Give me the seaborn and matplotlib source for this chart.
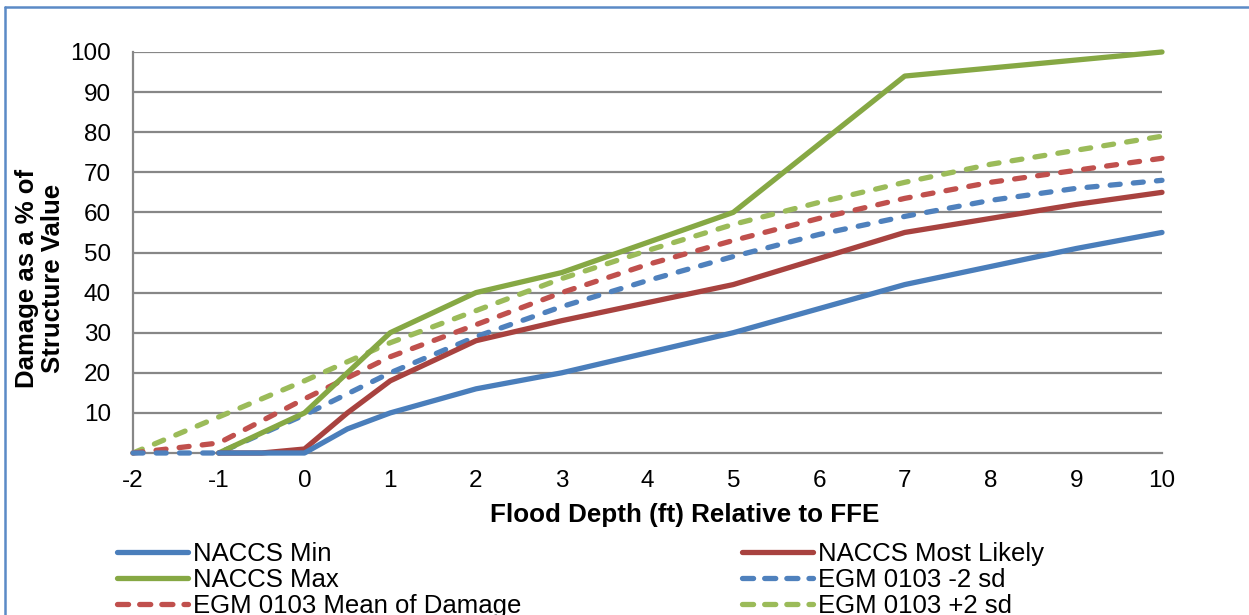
import matplotlib
matplotlib.use("Agg")
import matplotlib.pyplot as plt
from matplotlib.lines import Line2D
import seaborn as sns
import pandas as pd

# Depth-damage curves (damage as % of structure value vs. flood depth in ft relative to FFE)
naccs_depth = [-1, -0.5, 0, 0.5, 1, 2, 3, 4, 5, 6, 7, 8, 9, 10]
naccs_min = [0, 0, 0, 6, 10, 16, 20, 25, 30, 36, 42, 46.5, 51, 55]
naccs_most_likely = [0, 0, 1, 10, 18, 28, 33, 37.5, 42, 48.5, 55, 58.5, 62, 65]
naccs_max = [0, 5, 10, 20, 30, 40, 45, 52.5, 60, 77, 94, 96, 98, 100]

egm_depth = [-2, -1, 0, 1, 2, 3, 4, 5, 6, 7, 8, 9, 10]
egm_minus_2sd = [0, 0, 9.5, 20, 29, 36.5, 43, 49, 54.5, 59, 63, 66, 68]
egm_mean = [0, 2.5, 13.5, 24, 32, 40, 47, 53, 58.5, 63.5, 67.5, 70.5, 73.5]
egm_plus_2sd = [0, 9, 18, 27.5, 35.5, 43.5, 50.5, 57, 62.5, 67.5, 72, 75.5, 79]

x_ticks = [-2, -1, 0, 1, 2, 3, 4, 5, 6, 7, 8, 9, 10]
y_ticks = [10, 20, 30, 40, 50, 60, 70, 80, 90, 100]

BLUE_D = "#4f81bd"
RED_D = "#c0504d"
GREEN_D = "#9bbb59"
GRID = "#878787"
LW = 3.8

series = [
    ("NACCS Min", naccs_depth, naccs_min, "#4a7ebb", "-"),
    ("NACCS Max", naccs_depth, naccs_max, "#86a844", "-"),
    ("EGM 0103 Mean of Damage", egm_depth, egm_mean, RED_D, "--"),
    ("NACCS Most Likely", naccs_depth, naccs_most_likely, "#a8423f", "-"),
    ("EGM 0103 -2 sd", egm_depth, egm_minus_2sd, BLUE_D, "--"),
    ("EGM 0103 +2 sd", egm_depth, egm_plus_2sd, GREEN_D, "--"),
]

sns.set_style("white")
plt.rcParams["font.family"] = ["Liberation Sans", "DejaVu Sans"]
plt.rcParams["text.color"] = "black"

fig = plt.figure(figsize=(12.49, 6.15), dpi=100)
ax = fig.add_axes([133 / 1249, 1 - 453 / 615, 1029 / 1249, 401 / 615])

# horizontal gridlines
for yv in y_ticks:
    ax.axhline(yv, color=GRID, lw=1.6, zorder=1)

draw_order = [5, 2, 4, 1, 3, 0]
for i in draw_order:
    name, xs, ys, col, ls = series[i]
    df = pd.DataFrame({"depth": xs, "damage": ys})
    sns.lineplot(data=df, x="depth", y="damage", ax=ax, color=col, lw=LW,
                 linestyle=ls, sort=False, estimator=None, zorder=3, legend=False)
    line = ax.lines[-1]
    line.set_clip_on(False)
    if ls == "--":
        line.set_dashes((1.9, 2.5))
        line.set_dash_capstyle("round")
    else:
        line.set_solid_capstyle("round")
        line.set_solid_joinstyle("round")

ax.set_xlim(-2, 10)
ax.set_ylim(0, 100)
ax.set_xticks(x_ticks)
ax.set_xticklabels([str(v) for v in x_ticks])
ax.set_yticks([0] + y_ticks)
ax.set_yticklabels([""] + [str(v) for v in y_ticks])

for s in ["top", "right"]:
    ax.spines[s].set_visible(False)
for s in ["left", "bottom"]:
    ax.spines[s].set_color(GRID)
    ax.spines[s].set_linewidth(1.6)
    ax.spines[s].set_zorder(2)

ax.tick_params(axis="both", direction="out", length=5, width=1.6, color=GRID,
               labelsize=17.5, labelcolor="black")
ax.tick_params(axis="y", pad=11)
ax.tick_params(axis="x", pad=7)

ax.set_xlabel("Flood Depth (ft) Relative to FFE", fontsize=18.7, fontweight="bold",
              color="black", va="center")
ax.xaxis.set_label_coords((685 - 133) / 1029, (453 - 515) / 401)
ax.set_ylabel("Damage as a % of\nStructure Value", fontsize=18.5, fontweight="bold",
              color="black", linespacing=1.15, va="center", ha="center")
ax.yaxis.set_label_coords((40 - 133) / 1029, (453 - 278) / 401)


def legend_handle(col, ls):
    h = Line2D([], [], color=col, lw=LW, linestyle=ls)
    if ls == "--":
        h.set_dashes((2.1, 2.1))
        h.set_dash_capstyle("round")
    else:
        h.set_solid_capstyle("round")
    return h


leg_kw = dict(frameon=False, prop={"size": 18.5}, handlelength=2.75, handletextpad=0.2,
              labelspacing=0.07, borderpad=0, borderaxespad=0, loc="upper left")
col1 = series[:3]
col2 = series[3:]
fig.legend([legend_handle(c, l) for _, _, _, c, l in col1], [n for n, *_ in col1],
           bbox_to_anchor=(117 / 1249, 1 - 542 / 615), **leg_kw)
fig.legend([legend_handle(c, l) for _, _, _, c, l in col2], [n for n, *_ in col2],
           bbox_to_anchor=(742 / 1249, 1 - 542 / 615), **leg_kw)

# chart frame (top and left edges visible)
fig.add_artist(Line2D([5 / 1249, 1.0], [1 - 7 / 615, 1 - 7 / 615], transform=fig.transFigure,
                      color="#5b8ac6", lw=1.8))
fig.add_artist(Line2D([5 / 1249, 5 / 1249], [0.0, 1 - 7 / 615], transform=fig.transFigure,
                      color="#5b8ac6", lw=1.8))

fig.savefig("out.png", dpi=100)
